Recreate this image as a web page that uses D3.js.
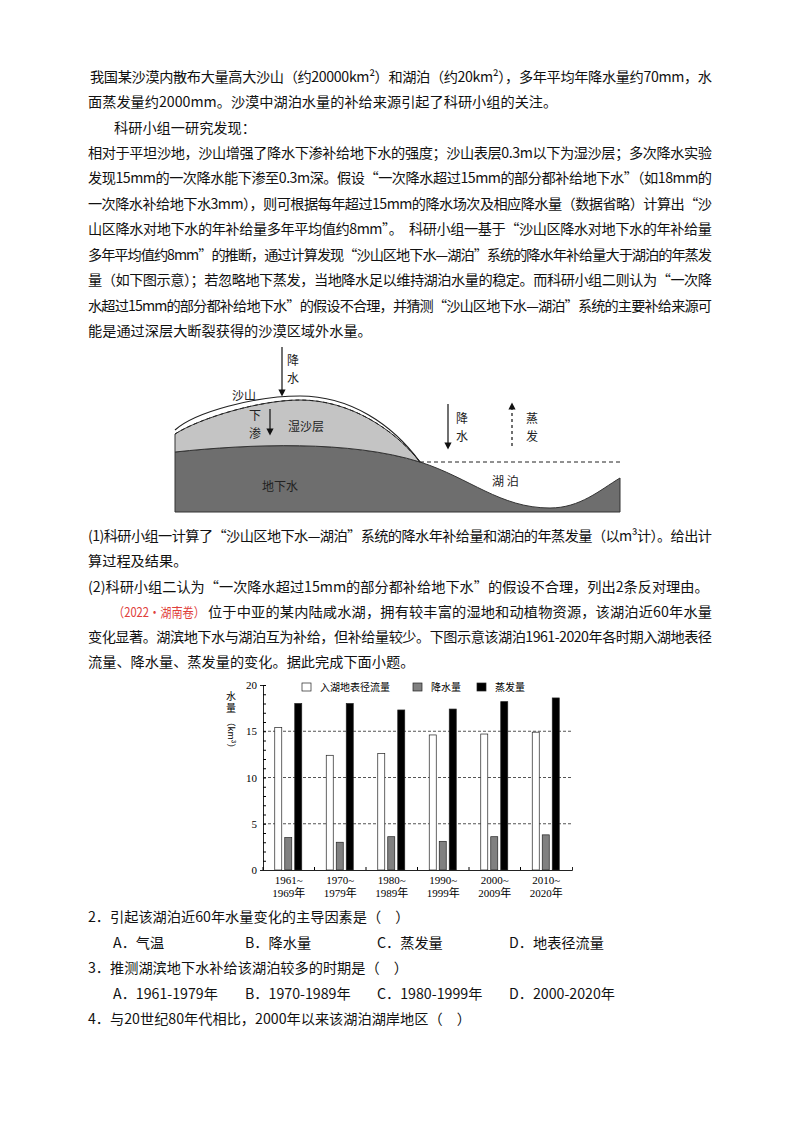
<!DOCTYPE html>
<html><head><meta charset="utf-8">
<script src="https://cdn.jsdelivr.net/npm/d3@7"></script>
<style>body{margin:0;background:#fff}</style>
</head><body>
<script>
var periods = ['1961~|1969年', '1970~|1979年', '1980~|1989年', '1990~|1999年', '2000~|2009年', '2010~|2020年'];
var runoff = [15.4, 12.4, 12.6, 14.6, 14.7, 14.9];
var precip = [3.5, 3.0, 3.6, 3.1, 3.6, 3.8];
var evap = [18.0, 18.0, 17.3, 17.4, 18.2, 18.6];
var seriesNames = ['入湖地表径流量', '降水量', '蒸发量'];
var yTicks = [0, 5, 10, 15, 20];

var svg = d3.select('body').append('svg')
	.attr('width', 800)
	.attr('height', 1132);

var font = '"Noto Sans CJK SC", sans-serif';

// text lines: [x, y, text, justify]
var lines = [
	[90, 82, '我国某沙漠内散布大量高大沙山（约20000km²）和湖泊（约20km²），多年平均年降水量约70mm，水', true],
	[88, 107, '面蒸发量约2000mm。沙漠中湖泊水量的补给来源引起了科研小组的关注。', false],
	[114, 133, '科研小组一研究发现：', false],
	[88, 158, '相对于平坦沙地，沙山增强了降水下渗补给地下水的强度；沙山表层0.3m以下为湿沙层；多次降水实验', true],
	[88, 183, '发现15mm的一次降水能下渗至0.3m深。假设“一次降水超过15mm的部分都补给地下水”（如18mm的', true],
	[88, 209, '一次降水补给地下水3mm），则可根据每年超过15mm的降水场次及相应降水量（数据省略）计算出“沙', true],
	[88, 234, '山区降水对地下水的年补给量多年平均值约8mm”。　科研小组一基于“沙山区降水对地下水的年补给量', true],
	[88, 260, '多年平均值约8mm”的推断，通过计算发现“沙山区地下水—湖泊”系统的降水年补给量大于湖泊的年蒸发', true],
	[88, 285, '量（如下图示意）；若忽略地下蒸发，当地降水足以维持湖泊水量的稳定。而科研小组二则认为“一次降', true],
	[88, 311, '水超过15mm的部分都补给地下水”的假设不合理，并猜测“沙山区地下水—湖泊”系统的主要补给来源可', true],
	[88, 336, '能是通过深层大断裂获得的沙漠区域外水量。', false],
	[88, 541, '(1)科研小组一计算了“沙山区地下水—湖泊”系统的降水年补给量和湖泊的年蒸发量（以m³计）。给出计', true],
	[88, 566, '算过程及结果。', false],
	[88, 592, '(2)科研小组二认为“一次降水超过15mm的部分都补给地下水”的假设不合理，列出2条反对理由。', false],
	[208, 617, '位于中亚的某内陆咸水湖，拥有较丰富的湿地和动植物资源，该湖泊近60年水量', true],
	[88, 642, '变化显著。湖滨地下水与湖泊互为补给，但补给量较少。下图示意该湖泊1961-2020年各时期入湖地表径', true],
	[88, 667, '流量、降水量、蒸发量的变化。据此完成下面小题。', false],
	[88, 922, '2．引起该湖泊近60年水量变化的主导因素是（　）', false],
	[88, 1024, '4．与20世纪80年代相比，2000年以来该湖泊湖岸地区（　）', false],
	[88, 973, '3．推测湖滨地下水补给该湖泊较多的时期是（　）', false]
];
lines.forEach(function(l) {
	var t = svg.append('text')
		.attr('x', l[0]).attr('y', l[1])
		.attr('font-family', font).attr('font-size', 14.2).attr('fill', '#111')
		.text(l[2]);
	if (l[3]) t.attr('textLength', 712 - l[0]).attr('lengthAdjust', 'spacing');
});
svg.append('text').attr('x', 113).attr('y', 617)
	.attr('font-family', font).attr('font-size', 13).attr('fill', '#e0403a')
	.attr('textLength', 92).attr('lengthAdjust', 'spacingAndGlyphs')
	.text('（2022·湖南卷）');

var opts = [
	[948, ['A．气温', 'B．降水量', 'C．蒸发量', 'D．地表径流量']],
	[999, ['A．1961-1979年', 'B．1970-1989年', 'C．1980-1999年', 'D．2000-2020年']]
];
opts.forEach(function(o) {
	o[1].forEach(function(s, i) {
		svg.append('text').attr('x', 113 + i * 132).attr('y', o[0])
			.attr('font-family', font).attr('font-size', 14.2).attr('fill', '#111').text(s);
	});
});

// DIAGRAM
var dg = svg.append('g');
// groundwater
dg.append('path')
	.attr('d', 'M175,452 C250,444 350,440 420,462 C470,478 500,508 550,508 C580,508 600,490 620,478 L620,512 L175,512 Z')
	.attr('fill', '#6e6e6e').attr('stroke', '#333');
// wet sand layer
dg.append('path')
	.attr('d', 'M175,434 C200,418 260,400 300,400 C350,400 395,430 420,462 C350,440 250,444 175,452 Z')
	.attr('fill', '#c4c4c4').attr('stroke', '#333');
// dune surface
dg.append('path')
	.attr('d', 'M175,430 C195,412 255,396 300,396 C350,396 392,424 420,462')
	.attr('fill', 'none').attr('stroke', '#222').attr('stroke-width', 1.2);
dg.append('path')
	.attr('d', 'M175,434 C200,418 260,400 300,400 C350,400 395,430 420,462')
	.attr('fill', 'none').attr('stroke', '#222').attr('stroke-dasharray', '4,3');
// lake level
dg.append('line').attr('x1', 420).attr('y1', 462).attr('x2', 620).attr('y2', 462)
	.attr('stroke', '#222').attr('stroke-dasharray', '4,3');
svg.append('defs').append('marker').attr('id', 'ah').attr('viewBox', '0 0 10 10')
	.attr('refX', 5).attr('refY', 5).attr('markerWidth', 6).attr('markerHeight', 6).attr('orient', 'auto')
	.append('path').attr('d', 'M0,0 L10,5 L0,10 Z').attr('fill', '#111');
function arrow(x, y1, y2, dash) {
	dg.append('line').attr('x1', x).attr('y1', y1).attr('x2', x).attr('y2', y2)
		.attr('stroke', '#111').attr('stroke-width', 1.2)
		.attr('stroke-dasharray', dash ? '3,3' : null).attr('marker-end', 'url(#ah)');
}
arrow(282, 347, 393);
arrow(270, 409, 432);
arrow(448, 404, 446);
arrow(512, 446, 406, true);
var lbl = [[287, 365, '降'], [287, 383, '水'], [232, 400, '沙山'], [249, 420, '下'], [249, 438, '渗'], [288, 431, '湿沙层'],
	[456, 423, '降'], [456, 441, '水'], [526, 423, '蒸'], [526, 441, '发'], [262, 491, '地下水'], [492, 486, '湖 泊']];
lbl.forEach(function(l) {
	dg.append('text').attr('x', l[0]).attr('y', l[1]).attr('font-family', font)
		.attr('font-size', 12).attr('fill', '#222').text(l[2]);
});

// BAR CHART
var x = d3.scaleBand().domain(periods).range([263, 572]);
var y = d3.scaleLinear().domain([0, 20]).range([870, 685]);
var ch = svg.append('g');
yTicks.slice(1, 4).forEach(function(v) {
	ch.append('line').attr('x1', 263).attr('x2', 572).attr('y1', y(v)).attr('y2', y(v))
		.attr('stroke', '#555').attr('stroke-dasharray', '3,2');
});
var bw = 7;
var series = [
	{vals: runoff, fill: '#fff', off: -14},
	{vals: precip, fill: '#808080', off: -4},
	{vals: evap, fill: '#000', off: 6}
];
series.forEach(function(s) {
	ch.selectAll(null).data(periods).enter().append('rect')
		.attr('x', function(d) { return x(d) + x.bandwidth() / 2 + s.off; })
		.attr('y', function(d, i) { return y(s.vals[i]); })
		.attr('width', bw)
		.attr('height', function(d, i) { return 870 - y(s.vals[i]); })
		.attr('fill', s.fill).attr('stroke', '#222').attr('stroke-width', 0.7);
});
var yAxis = ch.append('g').attr('transform', 'translate(263,0)')
	.call(d3.axisLeft(y).tickValues(d3.range(0, 21)).tickSize(3)
		.tickFormat(function(d) { return d % 5 === 0 ? d : ''; }));
yAxis.selectAll('line').attr('x2', 3).attr('x1', 0);
yAxis.selectAll('text').attr('x', -6).attr('font-family', 'Liberation Serif, serif').attr('font-size', 11);
var xAxis = ch.append('g').attr('transform', 'translate(0,870)')
	.call(d3.axisBottom(x).tickSize(-3).tickFormat(''));
xAxis.selectAll('.tick line').attr('transform', 'translate(' + (-x.bandwidth() / 2) + ',0)');
periods.forEach(function(p) {
	var parts = p.split('|');
	parts.forEach(function(s, j) {
		ch.append('text').attr('x', x(p) + x.bandwidth() / 2).attr('y', 884 + j * 13)
			.attr('text-anchor', 'middle').attr('font-family', 'Liberation Serif, "Noto Sans CJK SC", serif')
			.attr('font-size', 11).text(s);
	});
});
ch.selectAll('.domain').attr('stroke', '#222');
// legend
var lx = [302, 413, 477];
series.forEach(function(s, i) {
	ch.append('rect').attr('x', lx[i]).attr('y', 683).attr('width', 9).attr('height', 8)
		.attr('fill', s.fill).attr('stroke', '#222').attr('stroke-width', 0.7);
	ch.append('text').attr('x', lx[i] + 18).attr('y', 691).attr('font-family', font)
		.attr('font-size', 10).text(seriesNames[i]);
});
// y label
ch.append('text').attr('x', 231).attr('y', 700).attr('text-anchor', 'middle').attr('font-family', font).attr('font-size', 10).text('水');
ch.append('text').attr('x', 231).attr('y', 712).attr('text-anchor', 'middle').attr('font-family', font).attr('font-size', 10).text('量');
ch.append('text').attr('transform', 'translate(228,735) rotate(90)').attr('text-anchor', 'middle')
	.attr('font-family', font).attr('font-size', 9).text('（km³）');
</script>
</body></html>
